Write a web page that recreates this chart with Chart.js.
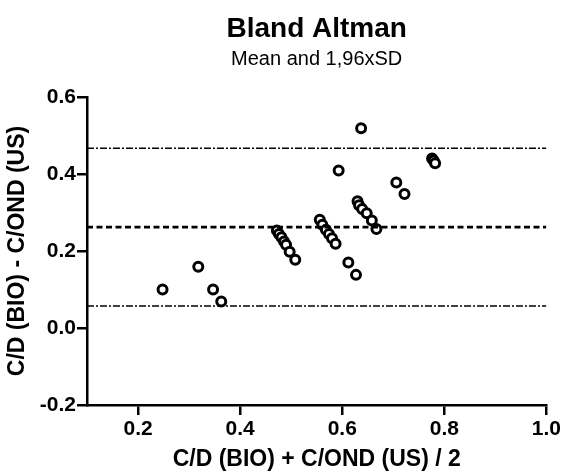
<!DOCTYPE html>
<html>
<head>
<meta charset="utf-8">
<script src="https://cdn.jsdelivr.net/npm/chart.js@4.4.1/dist/chart.umd.min.js"></script>
<style>
  html, body { margin: 0; padding: 0; background: #fff; }
  #wrap { width: 563px; height: 473px; }
</style>
</head>
<body>
<div id="wrap"><canvas id="myChart" width="563" height="473"></canvas></div>
<script>
// averages (x) and differences (y)
const meanValues = [
  0.248, 0.318, 0.347, 0.363,
  0.472, 0.476, 0.481, 0.486, 0.490, 0.497, 0.508,
  0.556, 0.561, 0.568, 0.574, 0.580, 0.587,
  0.593, 0.612, 0.627, 0.637,
  0.630, 0.633, 0.639, 0.648, 0.658, 0.667,
  0.706, 0.722, 0.776, 0.779, 0.782
]
const diffValues = [
  0.100, 0.159, 0.100, 0.069,
  0.253, 0.244, 0.236, 0.225, 0.216, 0.198, 0.177,
  0.281, 0.268, 0.255, 0.244, 0.233, 0.219,
  0.409, 0.170, 0.138, 0.519,
  0.329, 0.319, 0.309, 0.298, 0.279, 0.257,
  0.378, 0.348, 0.440, 0.435, 0.428
]
const meanDiff = 0.262
const upperLimit = 0.467
const lowerLimit = 0.057
const xRange = [0.1, 1.0]
const xTicks = [0.2, 0.4, 0.6, 0.8, 1.0]
const yTicks = [-0.2, 0.0, 0.2, 0.4, 0.6]

const FONT = '"Liberation Sans", Arial, Helvetica, sans-serif'

const points = meanValues.map((x, i) => ({ x: x, y: diffValues[i] }))
const hLine = (v) => xRange.map(x => ({ x: x, y: v }))

// title drawn centered over the plot area
const titlePlugin = {
  id: 'centerTitle',
  afterDraw(chart) {
    const { ctx, chartArea } = chart
    const cx = (chartArea.left + chartArea.right) / 2
    ctx.save()
    ctx.fillStyle = '#000'
    ctx.textAlign = 'center'
    ctx.textBaseline = 'alphabetic'
    ctx.font = 'bold 28px ' + FONT
    ctx.fillText('Bland Altman', cx, 37)
    ctx.font = '20px ' + FONT
    ctx.fillText('Mean and 1,96xSD', cx, 65)
    ctx.restore()
  }
}

const canvas = document.getElementById('myChart')
new Chart(canvas, {
  type: 'scatter',
  data: {
    datasets: [
      {
        label: 'upper',
        type: 'line',
        data: hLine(upperLimit),
        borderColor: '#000',
        borderWidth: 1.5,
        borderDash: [7, 2, 2, 2],
        pointRadius: 0,
        fill: false
      },
      {
        label: 'mean',
        type: 'line',
        data: hLine(meanDiff),
        borderColor: '#000',
        borderWidth: 2.8,
        borderDash: [6, 3.5],
        pointRadius: 0,
        fill: false
      },
      {
        label: 'lower',
        type: 'line',
        data: hLine(lowerLimit),
        borderColor: '#000',
        borderWidth: 1.5,
        borderDash: [7, 2, 2, 2],
        pointRadius: 0,
        fill: false
      },
      {
        label: 'diff',
        data: points,
        pointStyle: 'circle',
        pointRadius: 4.5,
        pointBorderWidth: 3,
        pointBackgroundColor: '#fff',
        pointBorderColor: '#000'
      }
    ]
  },
  options: {
    responsive: false,
    animation: false,
    layout: { padding: { top: 97, left: 4, right: 16, bottom: 0 } },
    plugins: {
      legend: { display: false },
      tooltip: { enabled: false }
    },
    scales: {
      x: {
        type: 'linear',
        min: xRange[0],
        max: xRange[1],
        afterBuildTicks: (scale) => { scale.ticks = xTicks.map(v => ({ value: v })) },
        afterFit: (scale) => { scale.height = 68 },
        ticks: {
          color: '#000',
          font: { family: FONT, size: 21, weight: 'bold' },
          padding: 2,
          maxRotation: 0,
          callback: (v) => v.toFixed(1)
        },
        grid: { drawOnChartArea: false, color: '#000', lineWidth: 2.5, tickLength: 10 },
        border: { display: true, color: '#000', width: 2.5 },
        title: {
          display: true,
          text: 'C/D (BIO) + C/OND (US) / 2',
          color: '#000',
          font: { family: FONT, size: 23, weight: 'bold' },
          padding: { top: 0, bottom: 0 }
        }
      },
      y: {
        type: 'linear',
        min: -0.2,
        max: 0.6,
        afterBuildTicks: (scale) => { scale.ticks = yTicks.map(v => ({ value: v })) },
        afterFit: (scale) => { scale.width = 83 },
        ticks: {
          color: '#000',
          font: { family: FONT, size: 21, weight: 'bold' },
          padding: 1,
          callback: (v) => v.toFixed(1)
        },
        grid: { drawOnChartArea: false, color: '#000', lineWidth: 2.5, tickLength: 10 },
        border: { display: true, color: '#000', width: 2.5 },
        title: {
          display: true,
          text: 'C/D (BIO) - C/OND (US)',
          color: '#000',
          font: { family: FONT, size: 23, weight: 'bold' },
          padding: { top: 0, bottom: 0 }
        }
      }
    }
  },
  plugins: [titlePlugin]
})
</script>
</body>
</html>
